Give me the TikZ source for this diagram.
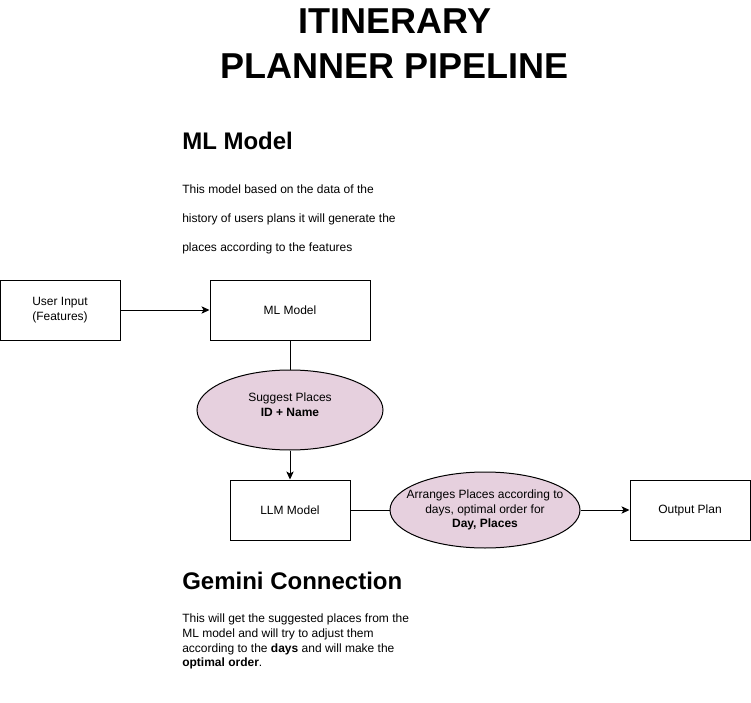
\documentclass[tikz,border=0pt]{standalone}
\usepackage{fontspec}
\setmainfont{Liberation Sans}
\usetikzlibrary{positioning,arrows.meta,shapes.geometric}
\definecolor{mauve}{HTML}{E6D0DE}

\begin{document}
\begin{tikzpicture}[x=0.75pt, y=-0.75pt,
    box/.style={draw=black, fill=white, line width=0.75pt, minimum height=45pt,
                font=\fontsize{9}{11.25}\selectfont, align=center},
    blob/.style={ellipse, draw=black, fill=mauve, line width=0.75pt, inner sep=0pt},
    txt/.style={font=\fontsize{9}{10.75}\selectfont, align=center, inner sep=0pt},
    head/.style={font=\fontsize{18}{22}\selectfont\bfseries, anchor=west, inner sep=0pt},
    note/.style={anchor=north west, inner sep=0pt, align=left},
    ln/.style={line width=0.75pt, black},
    fl/.style={-{Stealth[length=6pt, width=5.5pt, inset=1.5pt]}, line width=0.75pt, black},
  ]
    \useasboundingbox (0,0) rectangle (751,703);

    % title
    \node[font=\fontsize{27}{33.75}\selectfont\bfseries, align=center] (title) at (395,44)
      {ITINERARY\\PLANNER PIPELINE};

    % ML model part
    \node[head] (mlhead) at (182,141) {ML Model};
    \node[note, font=\fontsize{9}{21.4}\selectfont] (mltext) at (182,185)
      {This model based on the data of the\\history of users plans it will generate the\\places according to the features};

    \node[box, minimum width=90pt] (user) at (60,310) {User Input\\(Features)};
    \node[box, minimum width=120pt] (ml) at (290,310) {ML Model};
    \node[blob, minimum width=139.5pt, minimum height=60pt,
          label={[txt, yshift=4pt]center:Suggest Places\\\textbf{ID + Name}}]
      (suggest) at (290,410) {};

    % LLM part
    \node[box, minimum width=90pt] (llm) at (290,510) {LLM Model};
    \node[blob, minimum width=142.5pt, minimum height=57pt,
          label={[txt]center:Arranges Places according to\\days, optimal order for\\\textbf{Day, Places}}]
      (arrange) at (485,510) {};
    \node[box, minimum width=90pt] (out) at (690,510) {Output Plan};

    % connectors
    \draw[fl] (user) -- (ml);
    \draw[ln] (ml) -- (suggest);
    \draw[fl] (suggest) -- (llm);
    \draw[ln] (llm) -- (arrange);
    \draw[fl] (arrange) -- (out);

    % Gemini part
    \node[head] (gemhead) at (182,581) {Gemini Connection};
    \node[note, font=\fontsize{9}{11.1}\selectfont] (gemtext) at (182,613.5)
      {This will get the suggested places from the\\ML model and will try to adjust them\\according to the \textbf{days} and will make the\\\textbf{optimal order}.};
\end{tikzpicture}
\end{document}
